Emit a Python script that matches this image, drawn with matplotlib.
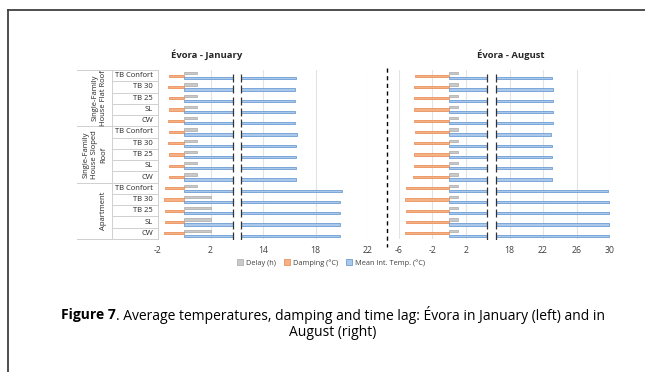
import numpy as np
import matplotlib
matplotlib.use("Agg")
import matplotlib.pyplot as plt
from matplotlib.patches import Patch
from matplotlib.lines import Line2D

plt.rcParams['font.family'] = ['Open Sans', 'DejaVu Sans']

# datos
grupos = ['Single-Family\nHouse Flat Roof', 'Single-Family\nHouse Sloped\nRoof', 'Apartment']
casos = ['TB Confort', 'TB 30', 'TB 25', 'SL', 'CW']
etiquetas = casos * 3

delay_ene = [1.0, 1.0, 1.0, 1.0, 1.0,
             1.0, 1.0, 1.0, 1.0, 1.0,
             1.0, 2.0, 2.0, 2.0, 2.0]
damp_ene = [-1.15, -1.23, -1.15, -1.15, -1.23,
            -1.15, -1.23, -1.18, -1.13, -1.2,
            -1.5, -1.55, -1.5, -1.5, -1.55]
temp_ene = [16.55, 16.47, 16.47, 16.47, 16.45,
            16.58, 16.5, 16.5, 16.5, 16.5,
            20.0, 19.9, 19.9, 19.9, 19.9]

delay_ago = [1.0] * 15
damp_ago = [-4.13, -4.25, -4.25, -4.17, -4.25,
            -4.13, -4.25, -4.25, -4.17, -4.33,
            -5.2, -5.24, -5.2, -5.17, -5.24]
temp_ago = [23.04, 23.16, 23.16, 23.16, 23.25,
            22.93, 23.04, 23.04, 23.04, 23.08,
            29.8, 29.85, 29.85, 29.85, 29.9]

ticks_ene = [-2, 2, 14, 18, 22]
ticks_ago = [-6, -2, 2, 18, 22, 26, 30]

c_gris, e_gris = '#C9C9C9', '#A9A9A9'
c_nar, e_nar = '#F4B183', '#E9834A'
c_azul, e_azul = '#A9C8EA', '#5B8FCF'


def escala_cortada(b0, b1, hueco):
    xs = [-1e6, b0, b1, 1e6]
    ts = [-1e6, b0, b0 + hueco, 1e6 - (b1 - b0) + hueco]
    def fwd(x):
        return np.interp(x, xs, ts)
    def inv(t):
        return np.interp(t, ts, xs)
    return fwd, inv


def panel(ax, delay, damp, temp, corte, hueco, cut_lo, cut_hi, lims, ticks):
    y = np.arange(len(delay))
    h = 0.2
    ax.set_xscale('function', functions=escala_cortada(corte[0], corte[1], hueco))
    ax.set_xlim(*lims)
    ax.set_ylim(len(delay) - 0.5, -0.5)
    for t in ticks:
        ax.axvline(t, color='#E3E3E3', lw=0.8, zorder=0)
    ax.barh(y - 0.22, delay, height=h, color=c_gris, edgecolor=e_gris, lw=0.5, zorder=2)
    ax.barh(y, damp, height=h, color=c_nar, edgecolor=e_nar, lw=0.5, zorder=2)
    temp = np.array(temp)
    ax.barh(y + 0.22, cut_lo, height=h, color=c_azul, edgecolor=e_azul, lw=0.5, zorder=2)
    ax.barh(y + 0.22, temp - cut_hi, left=cut_hi, height=h, color=c_azul,
            edgecolor=e_azul, lw=0.5, zorder=2)
    ax.plot([cut_lo] * len(y), y + 0.22, ls='none', marker='|', ms=5.5, mew=0.9,
            color='#333333', zorder=3)
    ax.plot([cut_hi] * len(y), y + 0.22, ls='none', marker='|', ms=5.5, mew=0.9,
            color='#333333', zorder=3)
    ax.set_xticks(ticks)
    ax.set_xticklabels([str(t) for t in ticks], fontsize=6.3, color='#404040')
    ax.tick_params(axis='x', length=0, pad=5)
    ax.set_yticks([])
    for s in ax.spines.values():
        s.set_visible(False)


fig = plt.figure(figsize=(6.45, 3.72), dpi=100)
W, H = 645.0, 372.0

ax1 = fig.add_axes([158 / W, 1 - 239 / H, 210 / W, 169 / H])
ax2 = fig.add_axes([399 / W, 1 - 239 / H, 211 / W, 169 / H])

panel(ax1, delay_ene, damp_ene, temp_ene, (2, 14), 4.0, 7.2, 9.0, (-2, 22), ticks_ene)
panel(ax2, delay_ago, damp_ago, temp_ago, (2, 18), 5.2, 9.9, 13.0, (-6, 30), ticks_ago)

fig.text(207 / W, 1 - 55 / H, 'Évora - January', fontsize=6.8, fontweight='bold',
         ha='center', va='center', color='#262626')
fig.text(511 / W, 1 - 55 / H, 'Évora - August', fontsize=6.8, fontweight='bold',
         ha='center', va='center', color='#262626')

# tabla de categorias
tr = ax1.get_yaxis_transform()
x_ext = (77 - 158) / 210.0
x_mid = (112 - 158) / 210.0
lc = '#D0D0D0'
n = len(etiquetas)
for i in range(n + 1):
    yb = i - 0.5
    x0 = x_ext if i % 5 == 0 else x_mid
    ax1.add_line(Line2D([x0, 0], [yb, yb], transform=tr, color=lc, lw=0.7, clip_on=False))
ax1.add_line(Line2D([x_mid, x_mid], [-0.5, n - 0.5], transform=tr, color=lc, lw=0.7, clip_on=False))
ax1.add_line(Line2D([0, 0], [-0.5, n - 0.5], transform=tr, color=lc, lw=0.7, clip_on=False))
for i, lab in enumerate(etiquetas):
    ax1.text((153 - 158) / 210.0, i, lab, transform=tr, ha='right', va='center',
             fontsize=5.5, color='#262626')
for g, nombre in enumerate(grupos):
    ax1.text((107 - 158) / 210.0, g * 5 + 2, nombre, transform=tr, rotation=90,
             ha='right', va='center', multialignment='center', fontsize=5.5,
             color='#262626', linespacing=1.35)

# separador entre paneles
fig.add_artist(Line2D([387 / W, 387 / W], [1 - 68 / H, 1 - 247 / H], color='black',
                      lw=1.0, ls=(0, (3, 2.5))))

# leyenda
handles = [Patch(facecolor=c_gris, edgecolor=e_gris, lw=0.5, label='Delay (h)'),
           Patch(facecolor=c_nar, edgecolor=e_nar, lw=0.5, label='Damping (°C)'),
           Patch(facecolor=c_azul, edgecolor=e_azul, lw=0.5, label='Mean Int. Temp. (°C)')]
fig.legend(handles=handles, loc='center', bbox_to_anchor=(331 / W, 1 - 263 / H), ncol=3,
           frameon=False, fontsize=5.3, handlelength=0.8, handleheight=0.8,
           handletextpad=0.4, columnspacing=1.1, labelcolor='#404040')

# pie de figura
fs = 10.0
t1 = fig.text(0, 1 - 315 / H, 'Figure 7', fontsize=fs, fontweight='bold', va='center')
t2 = fig.text(0, 1 - 315 / H, '. Average temperatures, damping and time lag: Évora in January (left) and in',
              fontsize=fs, va='center')
fig.text(333 / W, 1 - 332 / H, 'August (right)', fontsize=fs, va='center', ha='center')
fig.canvas.draw()
r = fig.canvas.get_renderer()
w1 = t1.get_window_extent(r).width
w2 = t2.get_window_extent(r).width
x0 = 333 - (w1 + w2) / 2
t1.set_x(x0 / W)
t2.set_x((x0 + w1) / W)

# marco
fig.add_artist(Line2D([8 / W, 1], [1 - 10 / H, 1 - 10 / H], color='#404040', lw=1.3))
fig.add_artist(Line2D([8 / W, 8 / W], [0, 1 - 10 / H], color='#404040', lw=1.3))

fig.savefig('out.png', dpi=100)
